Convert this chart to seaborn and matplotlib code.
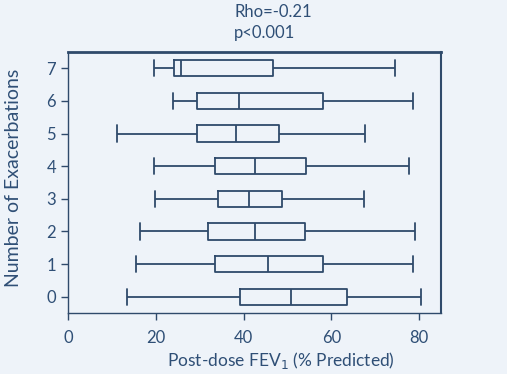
import numpy as np
import pandas as pd
import seaborn as sns
import matplotlib.pyplot as plt

# exacerbation counts and box stats (% predicted)
exacerbations = [0, 1, 2, 3, 4, 5, 6, 7]
whisker_low = [13.5, 15.5, 16.4, 19.8, 19.5, 11.2, 24.0, 19.6]
q1 = [39.3, 33.6, 32.0, 34.1, 33.6, 29.3, 29.3, 24.2]
median = [50.7, 45.5, 42.5, 41.2, 42.5, 38.2, 38.9, 25.8]
q3 = [63.5, 58.1, 54.0, 48.7, 54.2, 48.0, 58.2, 46.7]
whisker_high = [80.5, 78.6, 79.0, 67.4, 77.6, 67.7, 78.6, 74.6]
x_ticks = [0, 20, 40, 60, 80]

# five points per group reproduce min/q1/median/q3/max exactly
rows = []
for i, n in enumerate(exacerbations):
    for v in (whisker_low[i], q1[i], median[i], q3[i], whisker_high[i]):
        rows.append({'n': str(n), 'fev': v})
df = pd.DataFrame(rows)

bg = '#eef3f9'
line = '#2f4a6b'
txt = '#2f4f76'

sns.set_style('white')
plt.rcParams['font.family'] = ['Lato', 'DejaVu Sans']

fig = plt.figure(figsize=(5.07, 3.74), dpi=100, facecolor=bg)
ax = fig.add_axes([0.134, 0.163, 0.736, 0.698])
ax.set_facecolor(bg)

order = [str(n) for n in exacerbations[::-1]]
sns.boxplot(data=df, x='fev', y='n', order=order, orient='y', whis=(0, 100),
            fill=False, width=0.5, color=line, linewidth=1.3, ax=ax,
            capwidths=0.5)

ax.set_xlim(0, 85)
ax.set_ylim(7.5, -0.5)
ax.set_xticks(x_ticks)
ax.set_xlabel('Post-dose FEV$_1$ (% Predicted)', color=txt, fontsize=12.5)
ax.set_ylabel('Number of Exacerbations', color=txt, fontsize=14)
ax.xaxis.set_label_coords(0.571, -0.14)
ax.yaxis.set_label_coords(-0.123, 0.517)
ax.tick_params(axis='both', colors=line, labelcolor=txt, labelsize=12,
               direction='out', length=5, width=1, left=True, bottom=True)
ax.tick_params(axis='x', pad=7)
for side, sp in ax.spines.items():
    sp.set_visible(True)
    sp.set_color(line)
    sp.set_linewidth(1.0)
ax.spines['top'].set_linewidth(2.0)
ax.spines['right'].set_linewidth(1.5)

fig.text(234 / 507, 1 - 12 / 374, 'Rho=-0.21', color=txt, fontsize=12,
         ha='left', va='center')
fig.text(234 / 507, 1 - 33 / 374, 'p<0.001', color=txt, fontsize=12,
         ha='left', va='center')

fig.savefig('out.png', dpi=100, facecolor=bg)
